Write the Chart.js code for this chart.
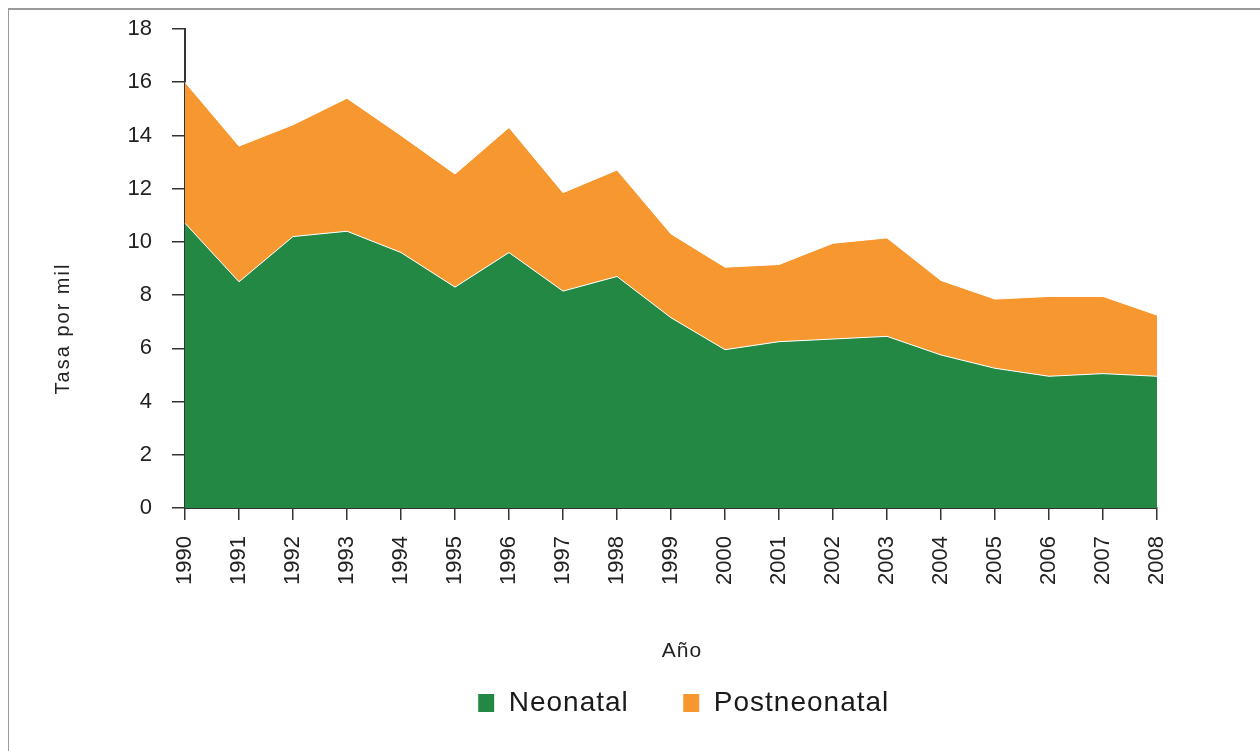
<!DOCTYPE html>
<html><head><meta charset="utf-8">
<script src="https://cdn.jsdelivr.net/npm/chart.js@4"></script>
<style>
html,body{margin:0;padding:0;background:#fff;}
#wrap{position:relative;width:1260px;height:751px;overflow:hidden;background:#fff;}
#frameTop{position:absolute;left:8px;top:8px;right:0;height:2px;background:#9a9a9a;}
#frameLeft{position:absolute;left:8px;top:8px;bottom:0;width:1px;background:#9a9a9a;}
canvas{position:absolute;left:0;top:0;}
</style></head><body>
<div id="wrap"><div id="frameTop"></div><div id="frameLeft"></div><canvas id="c" width="1260" height="751"></canvas></div>
<script>
const years = ['1990','1991','1992','1993','1994','1995','1996','1997','1998','1999','2000','2001','2002','2003','2004','2005','2006','2007','2008'];
const neonatal = [10.7, 8.5, 10.2, 10.4, 9.6, 8.3, 9.6, 8.15, 8.7, 7.15, 5.95, 6.25, 6.35, 6.45, 5.75, 5.25, 4.95, 5.05, 4.95];
const postneonatal = [5.3, 5.1, 4.2, 5.0, 4.4, 4.25, 4.7, 3.7, 4.0, 3.15, 3.1, 2.9, 3.6, 3.7, 2.8, 2.6, 3.0, 2.9, 2.3];
const yTickValues = [0, 2, 4, 6, 8, 10, 12, 14, 16, 18];
const seriesNames = ['Neonatal', 'Postneonatal'];
const xTitle = 'Año';
const yTitle = 'Tasa por mil';

const GREEN = '#228844';
const ORANGE = '#F7972F';
const FONT = "'Liberation Sans', Arial, sans-serif";

const textTweaks = {
  id: 'textTweaks',
  afterLayout(chart) {
    const wrap = (obj, name, dx, dy, ls) => {
      if (!obj || obj['_tw_' + name]) return;
      const orig = obj[name].bind(obj);
      obj[name] = function (...a) {
        const ctx = chart.ctx;
        ctx.save();
        ctx.translate(dx, dy);
        try { ctx.letterSpacing = ls; } catch (e) {}
        const r = orig(...a);
        ctx.restore();
        return r;
      };
      obj['_tw_' + name] = true;
    };
    wrap(chart.legend, 'draw', 95, -24, '1px');
    wrap(chart.scales.x, 'drawTitle', 11, 4.6, '1px');
    wrap(chart.scales.y, 'drawTitle', 0, 60, '2px');
  }
};

new Chart(document.getElementById('c'), {
  type: 'line',
  data: {
    labels: years,
    datasets: [
      { label: seriesNames[0], data: neonatal, backgroundColor: GREEN, borderColor: '#ffffff', borderWidth: 1, fill: 'origin', pointRadius: 0, tension: 0 },
      { label: seriesNames[1], data: postneonatal, backgroundColor: ORANGE, borderColor: '#ffffff', borderWidth: 1, fill: '-1', pointRadius: 0, tension: 0 }
    ]
  },
  options: {
    responsive: false,
    animation: false,
    events: [],
    layout: { padding: { left: 0, right: 103, top: 29, bottom: 0 } },
    plugins: {
      tooltip: { enabled: false },
      legend: {
        position: 'bottom',
        labels: {
          boxWidth: 17, boxHeight: 19, padding: 54,
          color: '#1a1a1a',
          font: { family: FONT, size: 28 }
        }
      }
    },
    scales: {
      x: {
        type: 'category',
        offset: false,
        afterFit: s => { s.height = 151; },
        grid: { drawOnChartArea: false, drawTicks: true, tickLength: 12, color: '#333', lineWidth: 1.5 },
        border: { display: true, color: '#333', width: 2 },
        ticks: { autoSkip: false, maxRotation: 90, minRotation: 90, padding: 16, color: '#222', font: { family: FONT, size: 22 } },
        title: { display: true, text: xTitle, color: '#222', font: { family: FONT, size: 21 }, padding: { top: 0, bottom: 0 } }
      },
      y: {
        stacked: true,
        min: 0, max: 18,
        afterFit: s => { s.width = 185; s.paddingTop = 0; s.paddingBottom = 0; },
        afterBuildTicks: s => { s.ticks = yTickValues.map(v => ({ value: v })); },
        grid: { drawOnChartArea: false, drawTicks: true, tickLength: 13, color: '#333', lineWidth: 1.5 },
        border: { display: true, color: '#333', width: 2 },
        ticks: { padding: 20, color: '#222', font: { family: FONT, size: 22 } },
        title: { display: true, text: yTitle, color: '#222', font: { family: FONT, size: 20 }, padding: { top: 51, bottom: 0 } }
      }
    }
  },
  plugins: [textTweaks]
});
</script>
</body></html>
